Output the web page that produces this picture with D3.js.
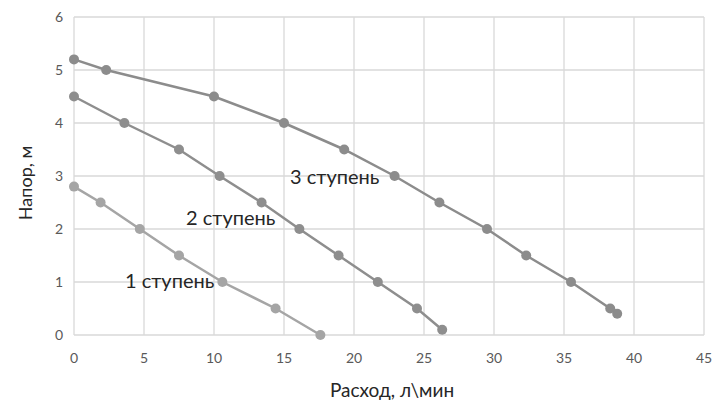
<!DOCTYPE html>
<html><head><meta charset="utf-8">
<script src="https://cdn.jsdelivr.net/npm/d3@7"></script>
<style>body{margin:0;background:#fff}svg{display:block}</style>
</head><body>
<svg id="c" width="725" height="405"></svg>
<script>
const xTicks = [0,5,10,15,20,25,30,35,40,45];
const yTicks = [0,1,2,3,4,5,6];
const seriesNames = ["1 ступень","2 ступень","3 ступень"];
const flow1 = [0,1.9,4.7,7.5,10.6,14.4,17.6];
const head1 = [2.8,2.5,2.0,1.5,1.0,0.5,0.0];
const flow2 = [0,3.6,7.5,10.4,13.4,16.1,18.9,21.7,24.5,26.3];
const head2 = [4.5,4.0,3.5,3.0,2.5,2.0,1.5,1.0,0.5,0.1];
const flow3 = [0,2.3,10,15,19.3,22.9,26.1,29.5,32.3,35.5,38.3,38.8];
const head3 = [5.2,5.0,4.5,4.0,3.5,3.0,2.5,2.0,1.5,1.0,0.5,0.4];
const labelPos = [[3.64,0.89],[8.0,2.08],[15.43,2.85]];

const svg = d3.select("#c");
const x = d3.scaleLinear().domain([0,45]).range([74,704]);
const y = d3.scaleLinear().domain([0,6]).range([335,17]);
const grid = "#d9d9d9";

svg.append("g").selectAll("line").data(xTicks).join("line")
  .attr("x1",d=>x(d)).attr("x2",d=>x(d)).attr("y1",y(0)).attr("y2",y(6))
  .attr("stroke",grid).attr("stroke-width",1.3);
svg.append("g").selectAll("line").data(yTicks).join("line")
  .attr("x1",x(0)).attr("x2",x(45)).attr("y1",d=>y(d)).attr("y2",d=>y(d))
  .attr("stroke",grid).attr("stroke-width",1.3);

const font = "Lato, 'Open Sans', sans-serif";
svg.append("g").selectAll("text").data(xTicks).join("text")
  .attr("x",d=>x(d)).attr("y",363).attr("text-anchor","middle")
  .attr("font-family",font).attr("font-size",14).attr("fill","#595959").text(d=>d);
svg.append("g").selectAll("text").data(yTicks).join("text")
  .attr("x",63).attr("y",d=>y(d)+5).attr("text-anchor","end")
  .attr("font-family",font).attr("font-size",14).attr("fill","#595959").text(d=>d);

const series = [
  {f:flow1,h:head1,c:"#a5a5a5"},
  {f:flow2,h:head2,c:"#8e8e8e"},
  {f:flow3,h:head3,c:"#8c8c8c"}
];
const line = d3.line().x(d=>x(d[0])).y(d=>y(d[1]));
series.forEach(s=>{
  const pts = s.f.map((v,i)=>[v,s.h[i]]);
  const g = svg.append("g");
  g.append("path").attr("d",line(pts)).attr("fill","none").attr("stroke",s.c).attr("stroke-width",2.5);
  g.selectAll("circle").data(pts).join("circle")
    .attr("cx",d=>x(d[0])).attr("cy",d=>y(d[1])).attr("r",5).attr("fill",s.c);
});

svg.append("g").selectAll("text").data(seriesNames).join("text")
  .attr("x",(d,i)=>x(labelPos[i][0])).attr("y",(d,i)=>y(labelPos[i][1]))
  .attr("text-anchor","start")
  .attr("font-family",font).attr("font-size",20).attr("fill","#262626").text(d=>d);

svg.append("text").attr("x",392).attr("y",397).attr("text-anchor","middle")
  .attr("font-family",font).attr("font-size",19).attr("fill","#262626").text("Расход, л\\мин");
svg.append("text").attr("transform","translate(32,183) rotate(-90)").attr("text-anchor","middle")
  .attr("font-family",font).attr("font-size",18).attr("fill","#262626").text("Напор, м");
</script>
</body></html>
